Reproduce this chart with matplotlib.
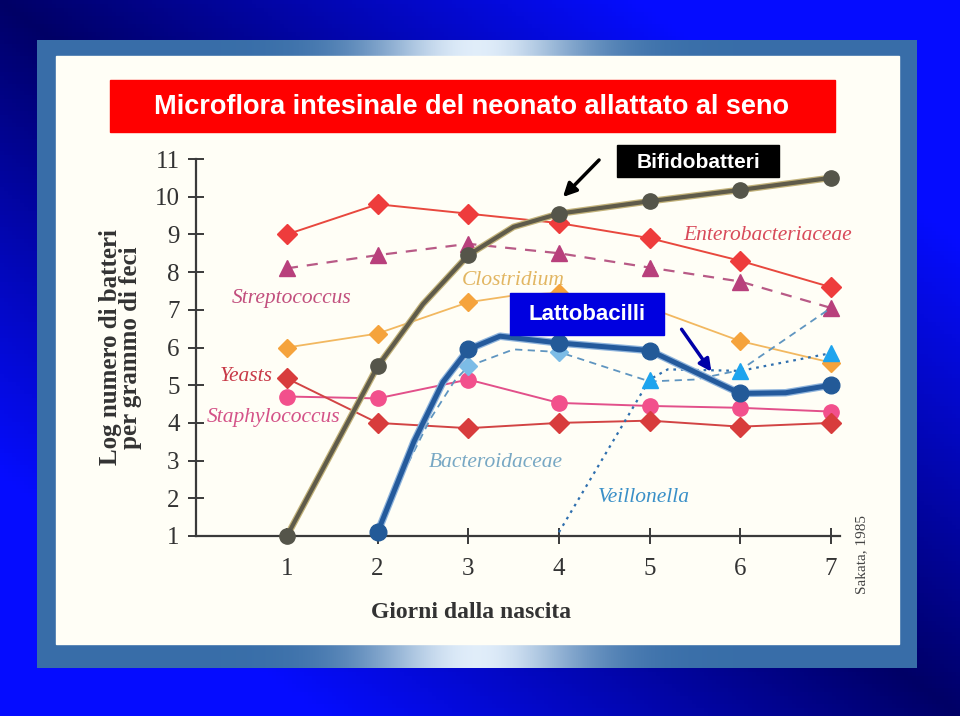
import numpy as np
import matplotlib.pyplot as plt
from matplotlib.patches import Rectangle

# giorni dalla nascita (days 1..7) and log counts
days = [1, 2, 3, 4, 5, 6, 7]

entero = [9.0, 9.8, 9.55, 9.3, 8.9, 8.3, 7.6]
strepto = [8.1, 8.45, 8.75, 8.5, 8.12, 7.75, 7.05]
staph = [4.7, 4.65, 5.15, 4.53, 4.45, 4.4, 4.3]
yeasts = [5.18, 4.0, 3.86, 4.0, 4.06, 3.9, 4.0]

# curved series: extra points
clostr_x = [1, 2, 3, 3.5, 4, 5, 6, 7]
clostr = [6.0, 6.37, 7.2, 7.38, 7.45, 7.05, 6.17, 5.6]
bifido_x = [1, 2, 2.5, 3, 3.5, 4, 5, 6, 7]
bifido = [1.0, 5.5, 7.15, 8.45, 9.2, 9.55, 9.88, 10.18, 10.5]
latto_x = [2, 2.4, 2.72, 3, 3.35, 4, 5, 5.5, 6, 6.5, 7]
latto = [1.1, 3.5, 5.08, 5.95, 6.3, 6.12, 5.92, 5.35, 4.78, 4.8, 5.0]
bactero_x = [2, 2.1, 2.58, 2.85, 3, 3.5, 4, 5, 5.5, 6, 7]
bactero = [1.1, 1.8, 4.1, 5.12, 5.5, 5.95, 5.88, 5.1, 5.15, 5.4, 7.05]
veil_x = [4, 5, 5.2, 6, 7]
veil = [1.1, 5.15, 5.42, 5.38, 5.85]

fig = plt.figure(figsize=(9.6, 7.16), dpi=100)

# slide background, frame and cream panel (pixel coords)
bg = fig.add_axes([0, 0, 1, 1], zorder=0)
bg.set_xlim(0, 960)
bg.set_ylim(716, 0)
bg.axis("off")
u, v = np.meshgrid(np.linspace(0, 1, 240), np.linspace(0, 1, 180))
t = np.clip(np.abs(u - v) * 1.5, 0, 1)[..., None]
c0 = np.array([0.0, 0.0, 0.40])
c1 = np.array([0.02, 0.05, 1.0])
bg.imshow(c0 + (c1 - c0) * t, extent=[0, 960, 716, 0], aspect="auto")

fx = np.linspace(0, 1, 400)
glow = np.exp(-((fx - 0.5) / 0.12) ** 2)[None, :, None]
e0 = np.array([0.22, 0.43, 0.66])
e1 = np.array([0.88, 0.93, 0.98])
bg.imshow(np.repeat(e0 + (e1 - e0) * glow, 2, axis=0),
          extent=[37, 917, 668, 40], aspect="auto")
bg.add_patch(Rectangle((56, 56), 843, 588, color="#fffef6"))

# the chart itself
ax = fig.add_axes([196.3 / 960, 180 / 716, 643.7 / 960, 377 / 716], zorder=1)
ax.patch.set_alpha(0)
ax.set_xlim(0, 7.1)
ax.set_ylim(1, 11)

serif = "Liberation Serif"

def series(x, y, color, ls="-", lw=1.4, marker="D", mfc=None, ms=10,
           mark=None, halo=None, z=3):
    if mark is None:
        mark = [i for i, xv in enumerate(x) if xv in days]
    if halo:
        ax.plot(x, y, color=halo, lw=lw + 1.8, clip_on=False, zorder=z,
                solid_capstyle="round")
    ax.plot(x, y, color=color, ls=ls, lw=lw, marker=marker, ms=ms,
            markevery=mark, mfc=mfc or color, mec=mfc or color,
            clip_on=False, zorder=z)

series(days, entero, "#e8483e", marker="D", mfc="#ee3c3c", ms=10)
series(days, strepto, "#b85a86", ls=(0, (5, 4)), lw=1.6, marker="^",
       mfc="#b8407c", ms=11)
series(clostr_x, clostr, "#f2b860", lw=1.3, marker="D", mfc="#f5a33c", ms=9)
series(days, staph, "#e2508a", marker="o", mfc="#f2508c", ms=11)
series(days, yeasts, "#d24444", marker="D", mfc="#d83c3c", ms=10)
series(bactero_x, bactero, "#5f95c0", ls=(0, (4, 3)), lw=1.3, marker="D",
       mfc="#7cbce6", ms=9, mark=[4, 6])
series(veil_x, veil, "#2f6fae", ls=(0, (1.2, 2.2)), lw=1.6, marker="^",
       mfc="#1ea4ee", ms=11, mark=[1, 3, 4])
series(bifido_x, bifido, "#5f5b4a", lw=3.0, marker="o", mfc="#55554a",
       ms=11, halo="#c2b27a", z=4)
series(latto_x, latto, "#245a9c", lw=3.6, marker="o", mfc="#235a98",
       ms=12, halo="#8fb4dc", z=4)

for s in ["top", "right"]:
    ax.spines[s].set_visible(False)
for s in ["left", "bottom"]:
    ax.spines[s].set_color("#3a3a3a")
    ax.spines[s].set_linewidth(1.6)
ax.set_xticks(days)
ax.set_yticks(range(1, 12))
ax.tick_params(direction="inout", length=12, width=1.4, color="#3a3a3a",
               labelsize=18, labelcolor="#333333", pad=6)
ax.tick_params(axis="x", pad=10)
for lab in ax.get_xticklabels() + ax.get_yticklabels():
    lab.set_fontfamily(serif)
ax.set_xlabel("Giorni dalla nascita", fontsize=17, fontweight="bold",
              family=serif, color="#333333")
ax.xaxis.set_label_coords(0.427, -0.175)
ax.set_ylabel("Log numero di batteri\nper grammo di feci", fontsize=18,
              fontweight="bold", family=serif, color="#333333",
              linespacing=0.85, labelpad=9)

labels = [
    ("Enterobacteriaceae", 5.37, 8.98, "#d84a5a"),
    ("Clostridium", 2.93, 7.79, "#e2b662"),
    ("Streptococcus", 0.39, 7.31, "#c2507e"),
    ("Yeasts", 0.26, 5.24, "#c83a48"),
    ("Staphylococcus", 0.12, 4.13, "#d45288"),
    ("Bacteroidaceae", 2.56, 2.94, "#78a8c4"),
    ("Veillonella", 4.43, 2.03, "#3a90c8"),
]
for txt, lx, ly, col in labels:
    ax.text(lx, ly, txt, color=col, fontsize=15.5, style="italic",
            family=serif, ha="left", va="center", zorder=2)

# slide overlays: title, callouts, arrows
ov = fig.add_axes([0, 0, 1, 1], zorder=5)
ov.set_xlim(0, 960)
ov.set_ylim(716, 0)
ov.axis("off")
ov.patch.set_alpha(0)

ov.add_patch(Rectangle((110, 80), 725, 52, color="#ff0000"))
ov.text(472, 107, "Microflora intesinale del neonato allattato al seno",
        color="white", fontsize=19.5, fontweight="bold",
        family="Liberation Sans", ha="center", va="center")

ov.add_patch(Rectangle((617, 145), 162, 32, color="black"))
ov.text(698, 162, "Bifidobatteri", color="white", fontsize=15,
        fontweight="bold", family="Liberation Sans", ha="center", va="center")
ov.annotate("", xy=(561, 199), xytext=(601, 158),
            arrowprops=dict(arrowstyle="-|>", color="black", lw=2.5,
                            mutation_scale=20))

ov.add_patch(Rectangle((510, 293), 154, 42, color="#0000e0"))
ov.text(587, 315, "Lattobacilli", color="white", fontsize=16,
        fontweight="bold", family="Liberation Sans", ha="center", va="center")
ov.annotate("", xy=(713, 374), xytext=(680, 327),
            arrowprops=dict(arrowstyle="-|>", color="#0000a8", lw=2.5,
                            mutation_scale=18))

ov.text(862, 554, "Sakata, 1985", rotation=90, fontsize=11, family=serif,
        color="#444444", ha="center", va="center")

fig.savefig("out.png", dpi=100)
